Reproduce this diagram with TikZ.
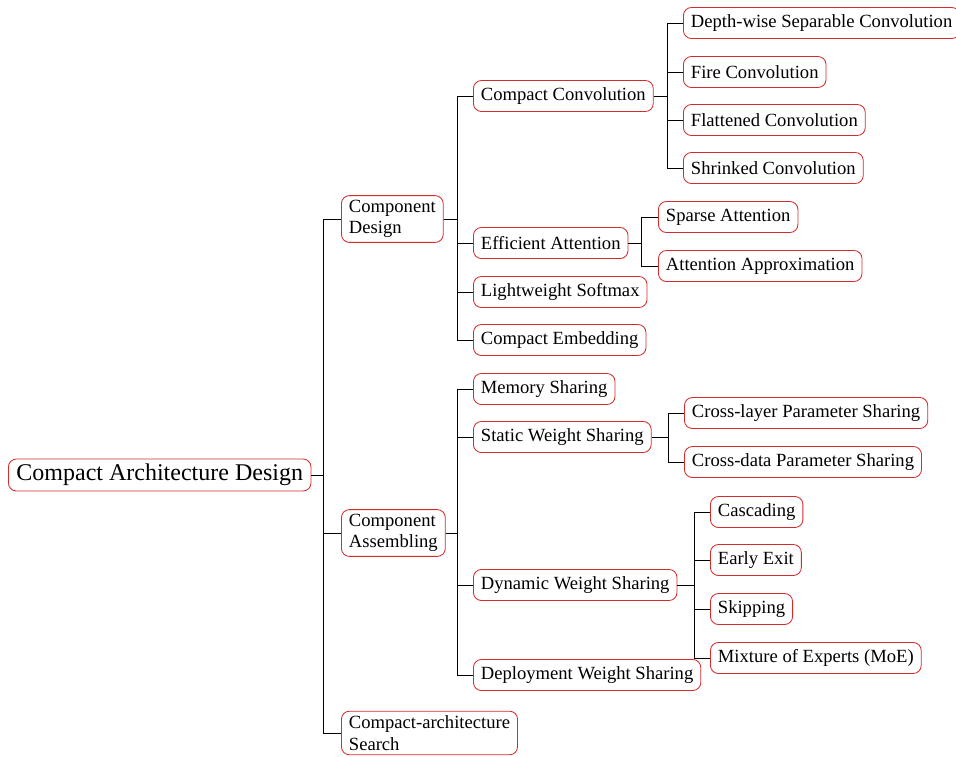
\documentclass[tikz,border=0pt]{standalone}
\usepackage{fontspec}
\setmainfont{Liberation Serif}
\definecolor{boxred}{RGB}{212,44,44}
\begin{document}
\begin{tikzpicture}[x=1pt,y=-1pt,
 box/.style={draw=boxred, line width=0.85pt, rounded corners=8pt, fill=white,
   inner xsep=7.5pt, inner ysep=4.5pt, minimum height=31pt, anchor=west,
   font=\fontsize{18.6}{21.5}\selectfont, align=left},
 rootbox/.style={box, font=\fontsize{24}{27}\selectfont, minimum height=32pt, inner xsep=8pt},
 conn/.style={draw=black, line width=0.85pt}]
\useasboundingbox (0,0) rectangle (956,756);
% junction columns
\coordinate (j0) at (323,0);
\coordinate (j1) at (457,0);
\coordinate (j2) at (667,0);
\coordinate (j3) at (641,0);
\coordinate (j4) at (457,0);
\coordinate (j5) at (668,0);
\coordinate (j6) at (694,0);
% nodes
\node[rootbox] (r) at (8,475) {Compact Architecture Design};
\node[box] (cd) at (341,219) {Component\\Design};
\node[box] (ca) at (341,533) {Component\\Assembling};
\node[box] (cs) at (341,733) {Compact-architecture\\Search};

\node[box] (cc) at (473,96) {Compact Convolution};
\node[box] (ea) at (473,243) {Efficient Attention};
\node[box] (ls) at (473,292) {Lightweight Softmax};
\node[box] (ce) at (473,340) {Compact Embedding};

\node[box] (dw) at (683,23) {Depth-wise Separable Convolution};
\node[box] (fc) at (683,72) {Fire Convolution};
\node[box] (flc) at (683,120) {Flattened Convolution};
\node[box] (sc) at (683,168) {Shrinked Convolution};

\node[box] (sa) at (658,217) {Sparse Attention};
\node[box] (aa) at (658,266) {Attention Approximation};

\node[box] (ms) at (473,389) {Memory Sharing};
\node[box] (sws) at (473,437) {Static Weight Sharing};
\node[box] (dws) at (473,585) {Dynamic Weight Sharing};
\node[box] (dpws) at (473,675) {Deployment Weight Sharing};

\node[box] (clp) at (684,413) {Cross-layer Parameter Sharing};
\node[box] (cdp) at (684,462) {Cross-data Parameter Sharing};

\node[box] (cas) at (710,512) {Cascading};
\node[box] (ee) at (710,560) {Early Exit};
\node[box] (sk) at (710,609) {Skipping};
\node[box] (moe) at (710,658) {Mixture of Experts (MoE)};
% connectors
\foreach \c in {cd,ca,cs} \draw[conn] (r.east) -- (r.east -| j0) |- (\c.west);
\foreach \c in {cc,ea,ls,ce} \draw[conn] (cd.east) -- (cd.east -| j1) |- (\c.west);
\foreach \c in {dw,fc,flc,sc} \draw[conn] (cc.east) -- (cc.east -| j2) |- (\c.west);
\foreach \c in {sa,aa} \draw[conn] (ea.east) -- (ea.east -| j3) |- (\c.west);
\foreach \c in {ms,sws,dws,dpws} \draw[conn] (ca.east) -- (ca.east -| j4) |- (\c.west);
\foreach \c in {clp,cdp} \draw[conn] (sws.east) -- (sws.east -| j5) |- (\c.west);
\foreach \c in {cas,ee,sk,moe} \draw[conn] (dws.east) -- (dws.east -| j6) |- (\c.west);
\end{tikzpicture}
\end{document}
